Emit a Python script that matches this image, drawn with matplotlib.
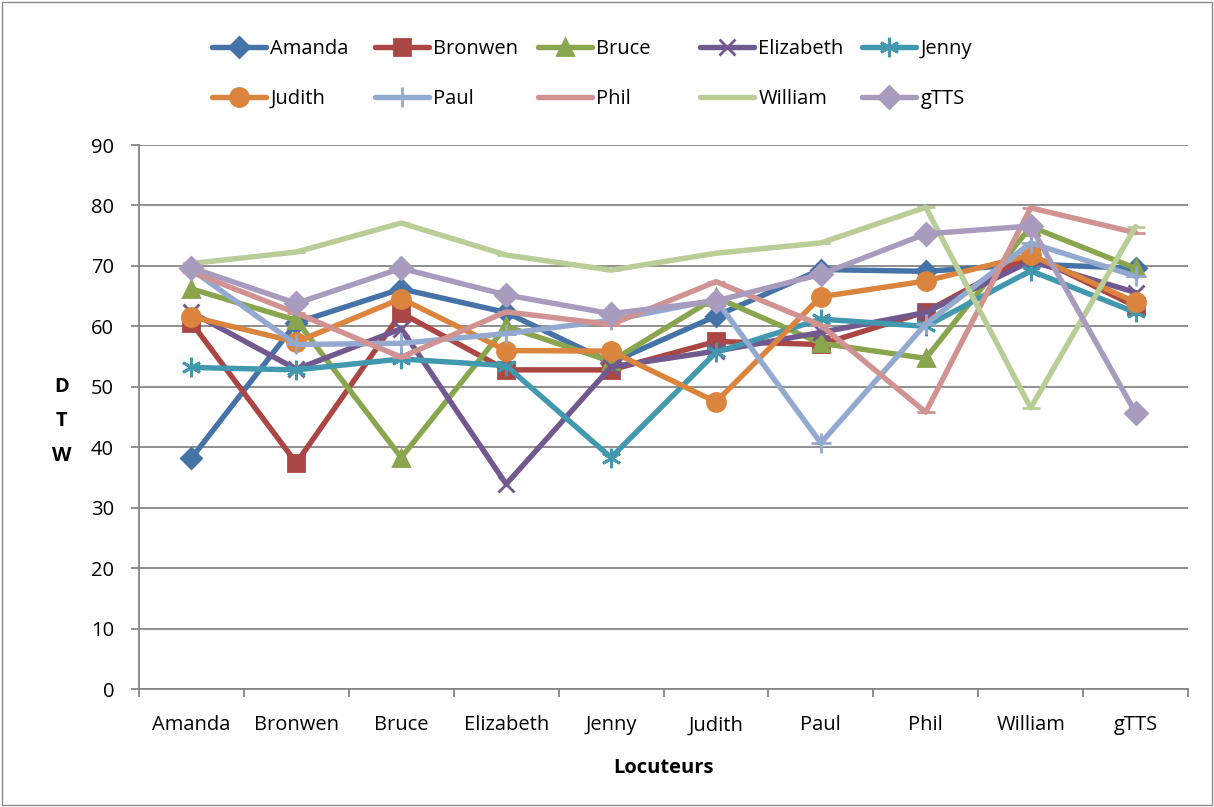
import numpy as np
import matplotlib
matplotlib.use('Agg')
import matplotlib.pyplot as plt
from matplotlib.patches import Rectangle

# Data
locuteurs = ['Amanda', 'Bronwen', 'Bruce', 'Elizabeth', 'Jenny',
             'Judith', 'Paul', 'Phil', 'William', 'gTTS']

amanda    = [38.2, 60.6, 66.2, 62.3, 54.0, 61.7, 69.4, 69.1, 70.3, 69.6]
bronwen   = [60.6, 37.4, 62.2, 52.8, 52.8, 57.5, 57.0, 62.4, 71.8, 63.3]
bruce     = [66.2, 61.0, 38.3, 60.0, 54.2, 64.8, 57.2, 54.7, 76.5, 69.6]
elizabeth = [62.3, 52.9, 59.6, 33.9, 53.3, 55.9, 59.0, 62.3, 70.8, 65.6]
jenny     = [53.2, 52.8, 54.6, 53.5, 38.3, 55.7, 61.2, 60.0, 69.2, 62.3]
judith    = [61.6, 57.4, 64.6, 56.0, 55.9, 47.5, 64.9, 67.5, 71.8, 64.0]
paul      = [69.4, 57.0, 57.2, 58.8, 61.0, 64.4, 40.7, 60.4, 73.8, 68.3]
phil      = [69.0, 62.2, 54.9, 62.4, 60.3, 67.4, 60.2, 45.8, 79.6, 75.5]
william   = [70.4, 72.3, 77.1, 71.8, 69.3, 72.1, 73.8, 79.7, 46.5, 76.5]
gtts      = [69.7, 63.8, 69.6, 65.2, 62.1, 64.2, 68.6, 75.3, 76.6, 45.7]

series = [
    ('Amanda', amanda, '#4572A7', 'D', 10),
    ('Bronwen', bronwen, '#AA4643', 's', 11),
    ('Bruce', bruce, '#89A54E', '^', 12),
    ('Elizabeth', elizabeth, '#71588F', 'x', 12),
    ('Jenny', jenny, '#4198AF', (6, 2, 0), 14),
    ('Judith', judith, '#DB843D', 'o', 13),
    ('Paul', paul, '#93A9CF', '+', 14),
    ('Phil', phil, '#D19392', '_', 13),
    ('William', william, '#B9CD96', '_', 13),
    ('gTTS', gtts, '#A99BBD', 'D', 11),
]

plt.rcParams['font.family'] = ['Open Sans', 'DejaVu Sans']
FS = 14.5

fig = plt.figure(figsize=(12.14, 8.07), dpi=100)
ax = fig.add_axes([0.1145, 0.1462, 0.8641, 0.6741])

x = np.arange(len(locuteurs))
handles = []
for name, vals, col, mk, ms in series:
    ln, = ax.plot(x, vals, color=col, lw=3.9, marker=mk, markersize=ms,
                  markerfacecolor=col, markeredgecolor=col, markeredgewidth=2.0,
                  label=name, solid_joinstyle='round', solid_capstyle='round')
    handles.append(ln)

ax.set_xlim(-0.5, len(locuteurs) - 0.5)
ax.set_ylim(0, 90)
ax.set_yticks(np.arange(0, 91, 10))
ax.grid(axis='y', color='#868686', lw=1.3)
ax.set_axisbelow(True)

ax.set_xticks(x)
ax.set_xticklabels(locuteurs, fontsize=FS)
ax.set_xticks(np.arange(-0.5, len(locuteurs)), minor=True)
ax.tick_params(axis='x', which='major', length=0, pad=19)
ax.tick_params(axis='x', which='minor', length=6, color='#868686', width=1.3)
ax.tick_params(axis='y', labelsize=FS, length=6, color='#868686', width=1.3, pad=12)

for side in ['top', 'right']:
    ax.spines[side].set_visible(False)
for side in ['left', 'bottom']:
    ax.spines[side].set_color('#868686')
    ax.spines[side].set_linewidth(1.3)

ax.set_xlabel('Locuteurs', fontsize=FS, fontweight='bold', labelpad=16)
fig.text(0.051, 0.478, 'D\nT\nW', fontsize=FS, fontweight='bold',
         ha='center', va='center', linespacing=1.95)

# legend: five fixed-width columns, two rows (row-wise order like Excel)
col_x = [212, 375, 538, 700, 862]
for i, cx in enumerate(col_x):
    pair = [handles[i], handles[i + 5]]
    fig.legend(handles=pair, labels=[h.get_label() for h in pair],
               loc='upper left', bbox_to_anchor=(cx / 1214, 1 - 39 / 807),
               frameon=False, fontsize=FS, handlelength=2.7,
               handletextpad=0.2, labelspacing=1.5,
               borderpad=0, borderaxespad=0)

fig.patches.append(Rectangle((0.002, 0.002), 0.996, 0.996, transform=fig.transFigure,
                             fill=False, edgecolor='#8c8c8c', lw=1.0))

fig.savefig('out.png', dpi=100)
